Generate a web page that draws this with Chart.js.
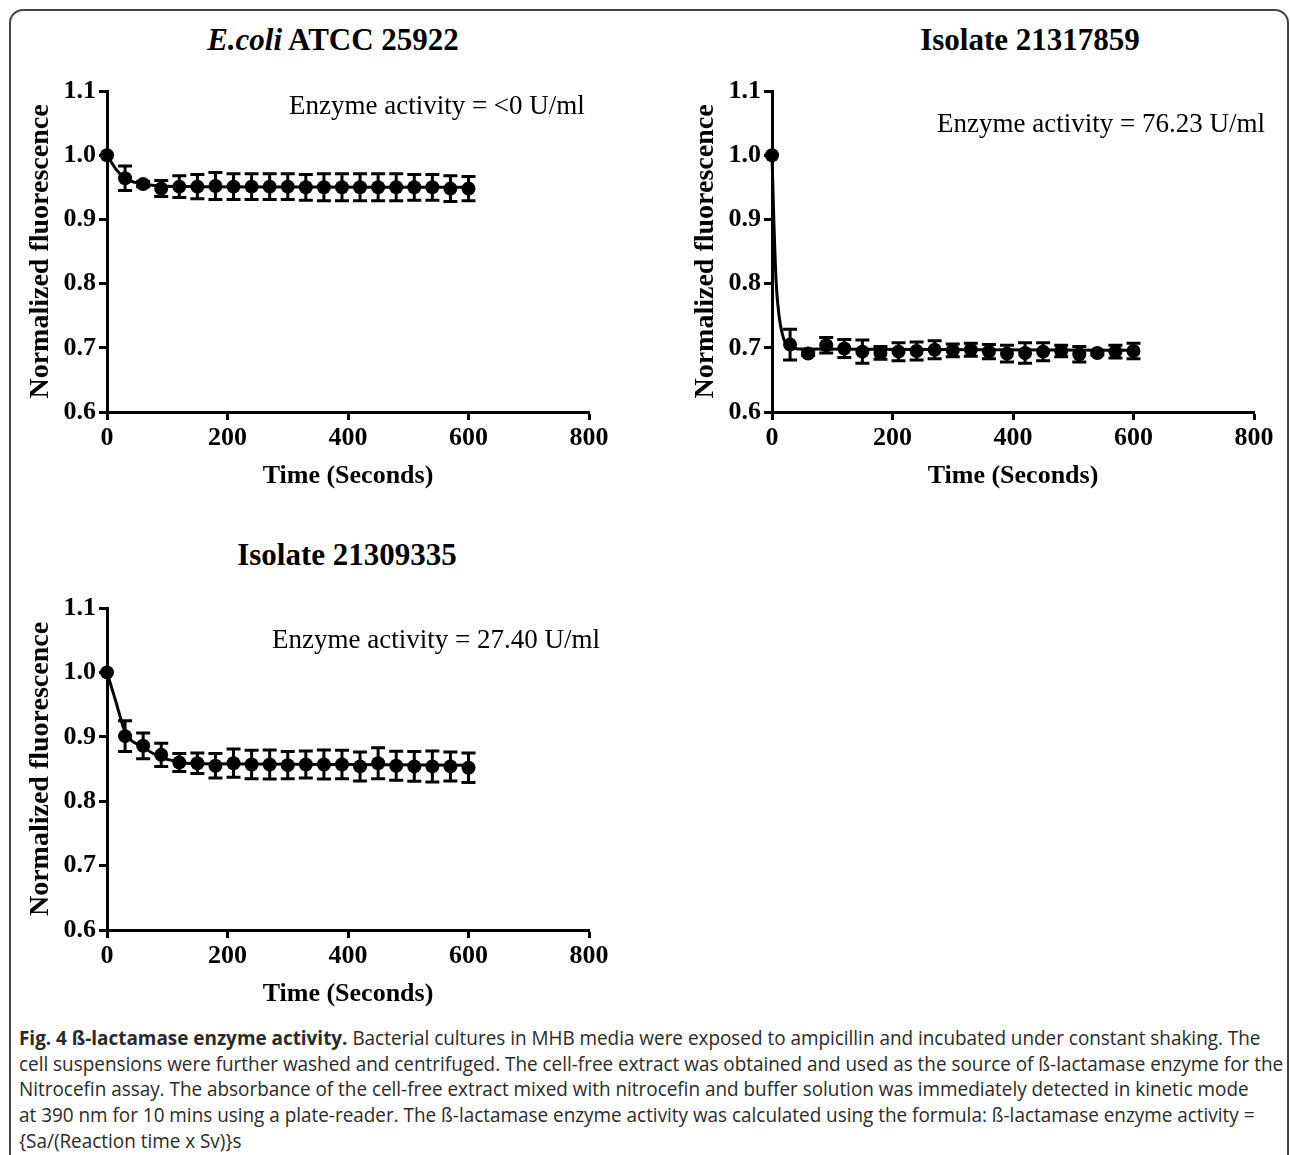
<!DOCTYPE html>
<html>
<head>
<meta charset="utf-8">
<script src="https://cdn.jsdelivr.net/npm/chart.js@4.4.1/dist/chart.umd.min.js"></script>
<style>
  body { margin: 0; width: 1290px; height: 1155px; background: #fff; position: relative; overflow: hidden; font-family: "Liberation Serif", serif; }
  .frame { position: absolute; left: 9px; top: 9px; width: 1276px; height: 1170px; border: 2px solid #444; border-radius: 14px 14px 0 0; }
  .panel { position: absolute; }
  .ptitle { position: absolute; font-weight: bold; font-size: 31px; line-height: 36px; white-space: nowrap; transform: translateX(-50%); color: #000; }
  .caption { position: absolute; left: 19px; top: 1025px; font-family: "Open Sans", sans-serif; font-size: 20px; line-height: 25.7px; color: #2a2a2a; white-space: nowrap; transform-origin: 0 0; transform: scaleX(0.945); }
  .caption b { font-weight: bold; }
</style>
</head>
<body>
<div class="frame"></div>

<div class="ptitle" style="left:333px; top:22px;"><i>E.coli</i> ATCC 25922</div>
<div class="ptitle" style="left:1030px; top:22px;">Isolate 21317859</div>
<div class="ptitle" style="left:347px; top:537px;">Isolate 21309335</div>

<div class="panel" style="left:0px; top:60px;"><canvas id="chart-ecoli" width="650" height="436"></canvas></div>
<div class="panel" style="left:665px; top:60px;"><canvas id="chart-21317859" width="625" height="436"></canvas></div>
<div class="panel" style="left:0px; top:577px;"><canvas id="chart-21309335" width="650" height="437"></canvas></div>

<div class="caption">
<b>Fig. 4 ß-lactamase enzyme activity.</b> Bacterial cultures in MHB media were exposed to ampicillin and incubated under constant shaking. The<br>
cell suspensions were further washed and centrifuged. The cell-free extract was obtained and used as the source of ß-lactamase enzyme for the<br>
Nitrocefin assay. The absorbance of the cell-free extract mixed with nitrocefin and buffer solution was immediately detected in kinetic mode<br>
at 390 nm for 10 mins using a plate-reader. The ß-lactamase enzyme activity was calculated using the formula: ß-lactamase enzyme activity =<br>
{Sa/(Reaction time x Sv)}s
</div>

<script>
// time points (s)
const timeSec = [0, 30, 60, 90, 120, 150, 180, 210, 240, 270, 300, 330, 360, 390, 420, 450, 480, 510, 540, 570, 600];

// E.coli ATCC 25922
const ecoliMean = [1.000, 0.964, 0.955, 0.948, 0.951, 0.951, 0.952, 0.951, 0.951, 0.951, 0.951, 0.950, 0.950, 0.950, 0.950, 0.950, 0.950, 0.950, 0.950, 0.948, 0.948];
const ecoliErr = [0, 0.019, 0.004, 0.0125, 0.017, 0.019, 0.021, 0.020, 0.020, 0.020, 0.020, 0.020, 0.021, 0.021, 0.021, 0.021, 0.021, 0.020, 0.020, 0.020, 0.019];
const ecoliFitTime = [0, 15, 30, 45, 60, 90, 150, 600];
const ecoliFitValue = [1.000, 0.978, 0.964, 0.958, 0.955, 0.952, 0.951, 0.950];

// Isolate 21317859
const iso859Mean = [1.000, 0.705, 0.691, 0.704, 0.699, 0.694, 0.692, 0.694, 0.695, 0.697, 0.696, 0.697, 0.694, 0.691, 0.692, 0.694, 0.695, 0.690, 0.692, 0.694, 0.695];
const iso859Err = [0, 0.024, 0.003, 0.012, 0.014, 0.018, 0.010, 0.014, 0.014, 0.014, 0.010, 0.010, 0.011, 0.013, 0.016, 0.014, 0.009, 0.012, 0.003, 0.010, 0.012];
const iso859FitTime = [0, 3, 7, 12, 17, 22, 30, 45, 600];
const iso859FitValue = [1.000, 0.900, 0.800, 0.748, 0.722, 0.708, 0.701, 0.698, 0.696];

// Isolate 21309335
const iso335Mean = [1.000, 0.901, 0.886, 0.872, 0.860, 0.859, 0.855, 0.859, 0.857, 0.857, 0.856, 0.857, 0.857, 0.857, 0.854, 0.859, 0.855, 0.854, 0.854, 0.854, 0.852];
const iso335Err = [0, 0.024, 0.020, 0.018, 0.014, 0.016, 0.019, 0.022, 0.022, 0.0225, 0.021, 0.021, 0.0225, 0.022, 0.0225, 0.024, 0.0225, 0.023, 0.024, 0.0225, 0.023];
const iso335FitTime = [0, 14, 30, 60, 90, 120, 150, 600];
const iso335FitValue = [1.000, 0.957, 0.908, 0.884, 0.868, 0.861, 0.858, 0.856];

const xTicks = [0, 200, 400, 600, 800];
const yTicks = [0.6, 0.7, 0.8, 0.9, 1.0, 1.1];

const serif = "Liberation Serif";

// draws the SD bars with the chart's own scales
const errorBars = {
  id: "errorBars",
  beforeDatasetsDraw(chart) {
    const ctx = chart.ctx;
    const xs = chart.scales.x, ys = chart.scales.y;
    chart.data.datasets.forEach(ds => {
      if (!ds.errors) return;
      ctx.save();
      ctx.strokeStyle = "#000";
      ctx.lineWidth = 3;
      ds.data.forEach((p, i) => {
        const e = ds.errors[i];
        if (!e) return;
        const x = xs.getPixelForValue(p.x);
        const top = ys.getPixelForValue(p.y + e);
        const bot = ys.getPixelForValue(p.y - e);
        ctx.beginPath();
        ctx.moveTo(x, top); ctx.lineTo(x, bot);
        ctx.moveTo(x - 7, top); ctx.lineTo(x + 7, top);
        ctx.moveTo(x - 7, bot); ctx.lineTo(x + 7, bot);
        ctx.stroke();
      });
      ctx.restore();
    });
  }
};

const activityLabel = {
  id: "activityLabel",
  afterDraw(chart, args, opts) {
    const ctx = chart.ctx;
    ctx.save();
    ctx.font = "27px " + serif;
    ctx.fillStyle = "#000";
    ctx.textAlign = "left";
    ctx.textBaseline = "middle";
    ctx.fillText(opts.text, chart.scales.x.getPixelForValue(opts.x), chart.scales.y.getPixelForValue(opts.y));
    ctx.restore();
  }
};

function panel_chart(id, means, errs, fitT, fitV, label, pad) {
  const ctx = document.getElementById(id);
  const points = timeSec.map((t, i) => ({ x: t, y: means[i] }));
  const fit = fitT.map((t, i) => ({ x: t, y: fitV[i] }));

  const axisFont = { size: 26, weight: "bold", family: serif };

  new Chart(ctx, {
    type: "line",
    data: {
      datasets: [
        {
          data: fit,
          borderColor: "#000",
          borderWidth: 3,
          pointRadius: 0,
          cubicInterpolationMode: "monotone",
          clip: false,
        },
        {
          data: points,
          errors: errs,
          showLine: false,
          pointRadius: 7,
          pointBackgroundColor: "#000",
          pointBorderColor: "#000",
          pointBorderWidth: 0,
          clip: false,
        },
      ],
    },
    options: {
      responsive: false,
      maintainAspectRatio: false,
      animation: false,
      devicePixelRatio: 1,
      layout: { padding: pad },
      plugins: {
        legend: { display: false },
        tooltip: { enabled: false },
        activityLabel: label,
      },
      scales: {
        x: {
          type: "linear",
          min: 0,
          max: 800,
          afterBuildTicks: s => { s.ticks = xTicks.map(v => ({ value: v })); },
          afterFit: s => { s.height = 84; },
          ticks: { font: axisFont, color: "#000", padding: 3, maxRotation: 0 },
          grid: { drawOnChartArea: false, drawTicks: true, tickLength: 8, tickWidth: 3, tickColor: "#000" },
          border: { color: "#000", width: 3 },
          title: { display: true, text: "Time (Seconds)", font: axisFont, color: "#000" },
        },
        y: {
          min: 0.6,
          max: 1.1,
          afterBuildTicks: s => { s.ticks = yTicks.map(v => ({ value: v })); },
          afterFit: s => { s.width = 87; },
          ticks: { font: axisFont, color: "#000", padding: 3, callback: v => v.toFixed(1) },
          grid: { drawOnChartArea: false, drawTicks: true, tickLength: 8, tickWidth: 3, tickColor: "#000" },
          border: { color: "#000", width: 3 },
          title: { display: true, text: "Normalized fluorescence", font: { size: 28, weight: "bold", family: serif }, color: "#000" },
        },
      },
    },
    plugins: [errorBars, activityLabel],
  });
}

panel_chart("chart-ecoli", ecoliMean, ecoliErr, ecoliFitTime, ecoliFitValue,
  { text: "Enzyme activity = <0 U/ml", x: 302, y: 1.075 },
  { left: 20, top: 31, right: 61, bottom: 0 });

panel_chart("chart-21317859", iso859Mean, iso859Err, iso859FitTime, iso859FitValue,
  { text: "Enzyme activity = 76.23 U/ml", x: 274, y: 1.047 },
  { left: 20, top: 31, right: 36, bottom: 0 });

panel_chart("chart-21309335", iso335Mean, iso335Err, iso335FitTime, iso335FitValue,
  { text: "Enzyme activity = 27.40 U/ml", x: 274, y: 1.049 },
  { left: 20, top: 31, right: 61, bottom: 0 });
</script>
</body>
</html>
